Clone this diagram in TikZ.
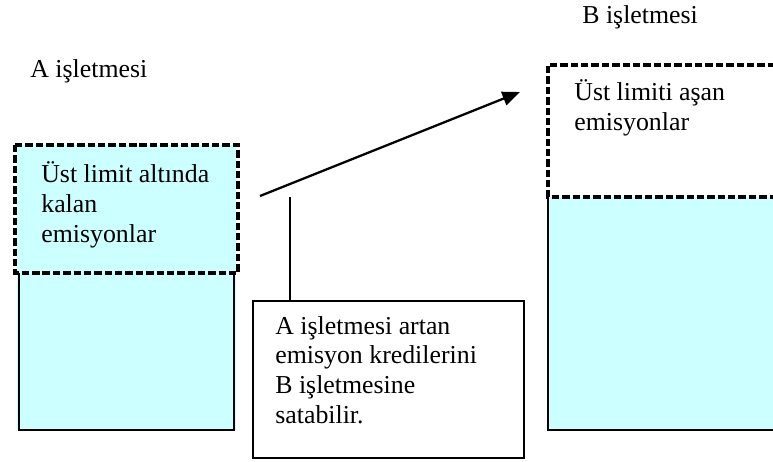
\documentclass[tikz,border=0pt]{standalone}
\usepackage{fontspec}
\setmainfont{Liberation Serif}
\usetikzlibrary{positioning,arrows.meta}

\definecolor{acikmavi}{RGB}{204,255,255}

\tikzset{
  ince/.style={line width=1pt},
  noktali/.style={line width=2.8pt, dash pattern=on 4.2pt off 1.7pt},
  yazi/.style={anchor=base west, align=left, inner sep=0pt,
    font=\fontsize{14.7}{16.8}\selectfont},
}

\begin{document}
\begin{tikzpicture}[x=0.02cm, y=-0.02cm]

% page size (1 unit = 1 px):
\useasboundingbox (0,0) rectangle (773,461);

% A isletmesi
\fill[acikmavi] (17,145) rectangle (236,430);
\draw[ince] (19,273) -- (19,430) -- (234,430) -- (234,273);
\draw[noktali] (15,145) rectangle (238,273);
\node[yazi] (baslikA) at (30,77) {A işletmesi};
% base = last line
\node[yazi] (altinda) at (41,242) {Üst limit altında\\kalan\\emisyonlar};

% B isletmesi
\fill[acikmavi] (548,197) rectangle (773,430);
\draw[ince] (773,430) -- (548,430) -- (548,197);
\draw[noktali] (775,65) -- (548,65) -- (548,197) -- (775,197);
\node[yazi] (baslikB) at (582,23) {B işletmesi};
\node[yazi] (asan) at (574,130) {Üst limiti aşan\\emisyonlar};

% kredi notu
\node[draw, ince, anchor=north west, minimum width=5.42cm, minimum height=3.14cm]
  (kredi) at (252,300) {};
\node[yazi] (krediyazi) at (275,423)
  {A işletmesi artan\\emisyon kredilerini\\B işletmesine\\satabilir.};

% ok ve cizgi
\coordinate (okbas) at (260,196);
\coordinate (okuc) at (520,92);
\draw[line width=1.3pt, -{Triangle[length=10pt, width=8pt]}] (okbas) -- (okuc);
\coordinate (cizgiuc) at (290,197);
\draw[ince] (kredi.north -| cizgiuc) -- (cizgiuc);

\end{tikzpicture}
\end{document}
